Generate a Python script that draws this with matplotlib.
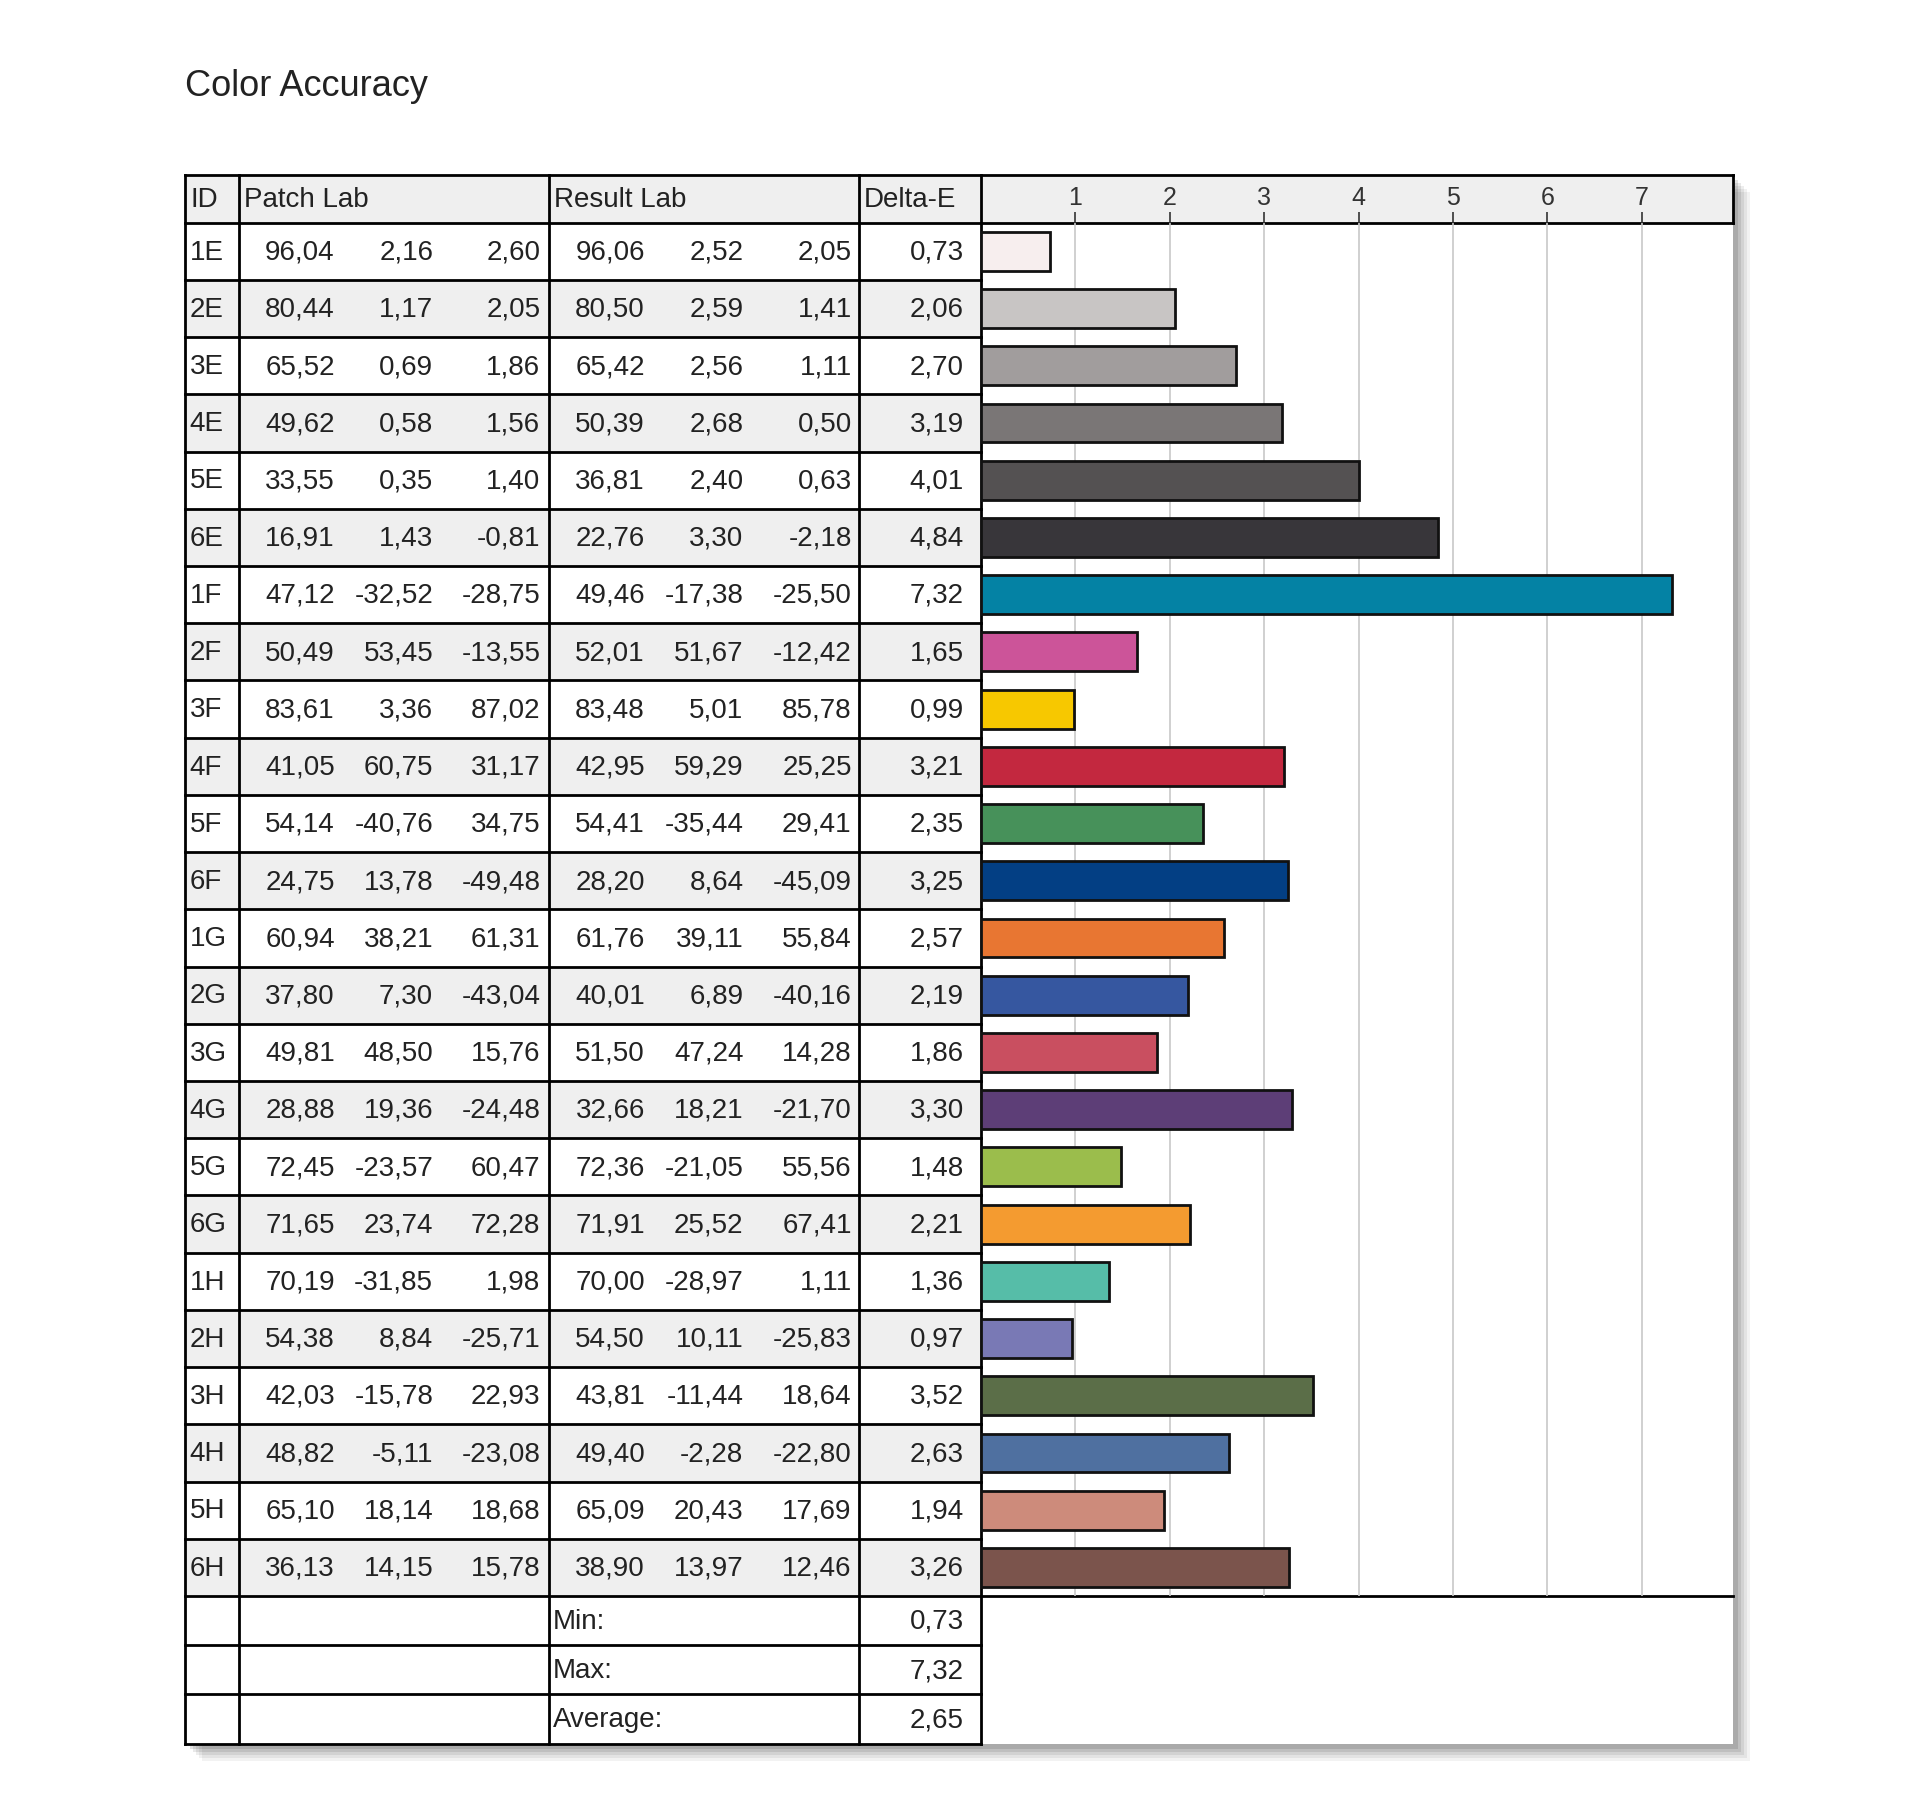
import matplotlib
matplotlib.use("Agg")
import matplotlib.pyplot as plt
from matplotlib.patches import Rectangle

ids = ["1E","2E","3E","4E","5E","6E","1F","2F","3F","4F","5F","6F",
       "1G","2G","3G","4G","5G","6G","1H","2H","3H","4H","5H","6H"]
patch_lab = [
    ["96,04","2,16","2,60"],["80,44","1,17","2,05"],["65,52","0,69","1,86"],
    ["49,62","0,58","1,56"],["33,55","0,35","1,40"],["16,91","1,43","-0,81"],
    ["47,12","-32,52","-28,75"],["50,49","53,45","-13,55"],["83,61","3,36","87,02"],
    ["41,05","60,75","31,17"],["54,14","-40,76","34,75"],["24,75","13,78","-49,48"],
    ["60,94","38,21","61,31"],["37,80","7,30","-43,04"],["49,81","48,50","15,76"],
    ["28,88","19,36","-24,48"],["72,45","-23,57","60,47"],["71,65","23,74","72,28"],
    ["70,19","-31,85","1,98"],["54,38","8,84","-25,71"],["42,03","-15,78","22,93"],
    ["48,82","-5,11","-23,08"],["65,10","18,14","18,68"],["36,13","14,15","15,78"]]
result_lab = [
    ["96,06","2,52","2,05"],["80,50","2,59","1,41"],["65,42","2,56","1,11"],
    ["50,39","2,68","0,50"],["36,81","2,40","0,63"],["22,76","3,30","-2,18"],
    ["49,46","-17,38","-25,50"],["52,01","51,67","-12,42"],["83,48","5,01","85,78"],
    ["42,95","59,29","25,25"],["54,41","-35,44","29,41"],["28,20","8,64","-45,09"],
    ["61,76","39,11","55,84"],["40,01","6,89","-40,16"],["51,50","47,24","14,28"],
    ["32,66","18,21","-21,70"],["72,36","-21,05","55,56"],["71,91","25,52","67,41"],
    ["70,00","-28,97","1,11"],["54,50","10,11","-25,83"],["43,81","-11,44","18,64"],
    ["49,40","-2,28","-22,80"],["65,09","20,43","17,69"],["38,90","13,97","12,46"]]
delta_e = [0.73,2.06,2.70,3.19,4.01,4.84,7.32,1.65,0.99,3.21,2.35,3.25,
           2.57,2.19,1.86,3.30,1.48,2.21,1.36,0.97,3.52,2.63,1.94,3.26]
bar_colors = ["#f7eeee","#c8c5c4","#a19d9d","#7a7676","#545152","#38363a",
              "#0482a4","#cc5499","#f7c800","#c3283f","#47915a","#033f84",
              "#e87632","#3657a0","#c94f60","#5d3e77","#9bbd4c","#f49b30",
              "#56bda8","#7979b5","#5b6e48","#4f70a0","#cd8b7b","#7b544c"]
summary_labels = ["Min:","Max:","Average:"]
summary_values = ["0,73","7,32","2,65"]
ticks = [1,2,3,4,5,6,7]

W, H = 1560.0, 1466.0
FONT = "Liberation Sans"
fig = plt.figure(figsize=(19.2, 18.04), dpi=100)
fig.patch.set_facecolor("white")
ov = fig.add_axes([0, 0, 1, 1])
ov.set_xlim(0, W); ov.set_ylim(H, 0); ov.axis("off")

L, R, TOP, HB = 150, 1408, 142, 181
cols = [150, 194, 446, 698, 797]
rh = 46.5
rows_bottom = HB + 24 * rh
srh = 40
bottom = rows_bottom + 3 * srh

# shadow
for i, a in enumerate([0.05, 0.06, 0.07, 0.09, 0.11]):
    off = 14 - i * 2.5
    ov.add_patch(Rectangle((L + off, TOP + off), R - L, bottom - TOP,
                           facecolor="black", alpha=a, edgecolor="none", zorder=0))
ov.add_patch(Rectangle((L, TOP), R - L, bottom - TOP, facecolor="white",
                       edgecolor="none", zorder=1))
ov.add_patch(Rectangle((L, TOP), R - L, HB - TOP, facecolor="#efefef", edgecolor="none", zorder=1))
for i in range(24):
    if i % 2 == 1:
        ov.add_patch(Rectangle((L, HB + i * rh), cols[-1] - L, rh, facecolor="#efefef",
                               edgecolor="none", zorder=1))

lw = 2.0
def hline(y, x0, x1, w=lw):
    ov.plot([x0, x1], [y, y], color="black", lw=w, zorder=5)
def vline(x, y0, y1, w=lw):
    ov.plot([x, x], [y0, y1], color="black", lw=w, zorder=5)

hline(TOP, L, R); hline(HB, L, R); hline(rows_bottom, L, R)
for i in range(1, 24):
    hline(HB + i * rh, L, cols[-1])
for j in range(1, 3):
    hline(rows_bottom + j * srh, L, cols[-1])
hline(bottom, L, cols[-1])
for c in cols:
    vline(c, TOP, bottom)
vline(R, TOP, HB)

fs = 20
tc = "#222222"
ov.text(150, 70, "Color Accuracy", fontsize=26, family=FONT, va="center",
        ha="left", color=tc)
hy = (TOP + HB) / 2
for x, t in [(155, "ID"), (198, "Patch Lab"), (450, "Result Lab"), (702, "Delta-E")]:
    ov.text(x, hy + 1, t, fontsize=fs, family=FONT, va="center", ha="left", color=tc)

p_x = [272, 352, 439]
r_x = [524, 604, 692]
for i in range(24):
    y = HB + (i + 0.5) * rh + 1
    ov.text(154, y, ids[i], fontsize=fs, family=FONT, va="center", ha="left", color=tc)
    for k in range(3):
        ov.text(p_x[k], y, patch_lab[i][k], fontsize=fs, family=FONT, va="center",
                ha="right", color=tc)
        ov.text(r_x[k], y, result_lab[i][k], fontsize=fs, family=FONT, va="center",
                ha="right", color=tc)
    ov.text(783, y, f"{delta_e[i]:.2f}".replace(".", ","), fontsize=fs, family=FONT,
            va="center", ha="right", color=tc)
for j in range(3):
    y = rows_bottom + (j + 0.5) * srh + 1
    ov.text(449, y, summary_labels[j], fontsize=fs, family=FONT, va="center", ha="left", color=tc)
    ov.text(783, y, summary_values[j], fontsize=fs, family=FONT, va="center", ha="right", color=tc)

# bar chart axes
unit = 76.7
bx0 = 797
ax = fig.add_axes([bx0 / W, 1 - rows_bottom / H, (R - bx0) / W, (rows_bottom - HB) / H])
ax.set_facecolor("none")
ax.set_xlim(0, (R - bx0) / unit)
ax.set_ylim(23.5, -0.5)
ax.barh(range(24), delta_e, height=0.68, color=bar_colors, edgecolor="#111111",
        linewidth=2, zorder=3)
ax.set_xticks(ticks)
ax.set_xticklabels([str(t) for t in ticks], family=FONT, fontsize=18, color="#333333")
ax.xaxis.tick_top()
ax.tick_params(axis="x", length=8, width=1.2, pad=1, direction="out", color="#333333")
ax.set_yticks([])
ax.grid(axis="x", color="#c8c8c8", lw=1.2, zorder=0)
for s in ax.spines.values():
    s.set_visible(False)

fig.savefig("out.png", dpi=100, facecolor="white")
